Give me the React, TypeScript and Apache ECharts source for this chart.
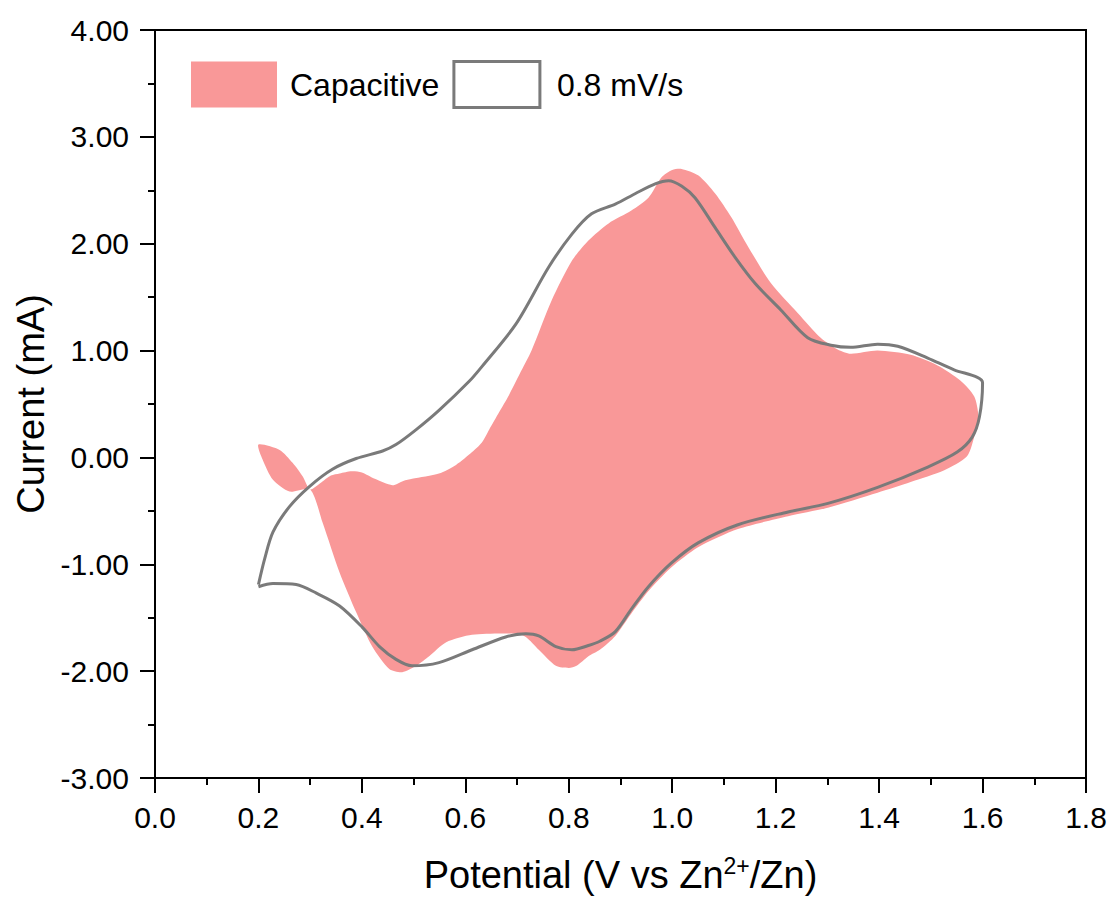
import React, { useEffect, useRef } from "react";
import * as echarts from "echarts";

// Potential (V) / Current (mA) pairs
const cvPoints: [number, number][] = [
  [0.200, -1.19], [0.212, -0.95], [0.228, -0.70], [0.260, -0.46], [0.299, -0.27],
  [0.343, -0.11], [0.389, -0.01], [0.440, 0.06], [0.466, 0.12], [0.505, 0.26],
  [0.549, 0.44], [0.607, 0.71], [0.632, 0.85], [0.698, 1.25],
  [0.761, 1.78], [0.806, 2.09], [0.844, 2.28], [0.890, 2.37], [0.929, 2.47],
  [0.967, 2.56], [0.993, 2.59], [1.018, 2.54], [1.044, 2.43], [1.083, 2.15],
  [1.122, 1.87], [1.160, 1.63], [1.210, 1.38], [1.262, 1.12], [1.307, 1.05],
  [1.345, 1.03], [1.397, 1.06], [1.436, 1.04], [1.494, 0.93], [1.545, 0.82],
  [1.590, 0.75], [1.600, 0.70],
  [1.594, 0.38], [1.580, 0.19], [1.551, 0.05], [1.494, -0.09], [1.397, -0.28],
  [1.301, -0.43], [1.224, -0.51], [1.127, -0.63], [1.050, -0.80], [0.998, -0.99],
  [0.954, -1.21], [0.921, -1.42], [0.890, -1.63], [0.860, -1.72], [0.838, -1.76],
  [0.806, -1.80], [0.775, -1.77], [0.742, -1.67], [0.717, -1.65], [0.678, -1.68],
  [0.613, -1.80], [0.549, -1.92], [0.497, -1.95], [0.466, -1.89], [0.434, -1.77],
  [0.401, -1.59], [0.357, -1.39], [0.312, -1.27], [0.273, -1.19], [0.228, -1.18],
  [0.200, -1.21],
];

const capacitivePoints: [number, number][] = [
  [0.200, 0.12], [0.241, 0.07], [0.266, -0.05], [0.286, -0.18], [0.300, -0.30],
  [0.320, -0.24], [0.340, -0.17], [0.357, -0.15], [0.380, -0.13], [0.400, -0.14],
  [0.425, -0.20], [0.459, -0.26], [0.480, -0.22], [0.497, -0.20], [0.549, -0.15],
  [0.582, -0.07], [0.613, 0.05], [0.632, 0.14], [0.646, 0.26], [0.665, 0.42],
  [0.684, 0.58], [0.705, 0.78], [0.728, 1.00], [0.767, 1.47], [0.806, 1.84],
  [0.838, 2.03], [0.877, 2.19], [0.921, 2.31], [0.954, 2.43], [0.979, 2.62],
  [1.000, 2.69], [1.018, 2.70], [1.050, 2.64], [1.083, 2.47], [1.114, 2.25],
  [1.147, 1.97], [1.191, 1.63], [1.243, 1.35], [1.287, 1.12], [1.320, 1.01],
  [1.345, 0.97], [1.397, 1.00], [1.461, 0.96], [1.513, 0.86], [1.557, 0.72],
  [1.584, 0.57], [1.592, 0.38], [1.586, 0.23], [1.570, 0.01], [1.526, -0.12],
  [1.461, -0.23], [1.397, -0.33], [1.301, -0.47], [1.224, -0.55], [1.127, -0.67],
  [1.050, -0.84], [0.998, -1.03], [0.954, -1.25], [0.921, -1.46], [0.890, -1.67],
  [0.860, -1.80], [0.838, -1.86], [0.815, -1.95], [0.800, -1.97], [0.775, -1.95],
  [0.742, -1.80], [0.717, -1.68], [0.698, -1.65], [0.613, -1.66], [0.563, -1.73],
  [0.530, -1.86], [0.505, -1.95], [0.478, -2.01], [0.453, -1.98], [0.420, -1.77],
  [0.389, -1.45], [0.357, -1.08], [0.324, -0.61], [0.300, -0.30], [0.260, -0.32],
  [0.228, -0.21], [0.208, -0.02],
];

const seriesNames = ["Capacitive", "0.8 mV/s"];
const xTitle = "Potential (V vs Zn{sup|2+}/Zn)";
const yTitle = "Current (mA)";

const PINK = "#F99898";
const GRAY = "#7A7A7A";
const FONT = "'Liberation Sans', Arial, sans-serif";

export default function App() {
  const ref = useRef<HTMLDivElement>(null);
  useEffect(() => {
    if (!ref.current) return;
    const chart = echarts.init(ref.current, undefined, { renderer: "svg" });
    chart.setOption({
      animation: false,
      backgroundColor: "#fff",
      textStyle: { fontFamily: FONT },
      grid: {
        left: 155, right: 29, top: 30, bottom: 125,
        show: true, borderColor: "#000", borderWidth: 2, backgroundColor: "transparent",
      },
      legend: {
        left: 186, top: 55, orient: "horizontal",
        itemWidth: 86, itemHeight: 46, itemGap: 13,
        textStyle: { fontFamily: FONT, fontSize: 32, color: "#000" },
        data: [
          { name: seriesNames[0], icon: "rect", itemStyle: { color: PINK, borderWidth: 0 }, textStyle: { padding: [0, 0, 0, 8] } },
          { name: seriesNames[1], icon: "rect", itemStyle: { color: "#fff", borderColor: GRAY, borderWidth: 3 }, textStyle: { padding: [0, 0, 0, 12] } },
        ],
      },
      xAxis: {
        type: "value", min: 0, max: 1.8, interval: 0.2,
        name: xTitle, nameLocation: "middle", nameGap: 76,
        nameTextStyle: {
          fontFamily: FONT, fontSize: 38, color: "#000",
          rich: { sup: { fontFamily: FONT, fontSize: 23, color: "#000", verticalAlign: "top", padding: [0, 0, 18, 0] } },
        },
        axisLine: { show: true, onZero: false, lineStyle: { color: "#000", width: 2 } },
        axisTick: { show: true, inside: false, length: 15, lineStyle: { color: "#000", width: 2 } },
        minorTick: { show: true, splitNumber: 2, length: 7, lineStyle: { color: "#000", width: 2 } },
        axisLabel: { fontFamily: FONT, fontSize: 30, color: "#000", margin: 24, formatter: (v: number) => v.toFixed(1) },
        splitLine: { show: false },
      },
      yAxis: {
        type: "value", min: -3, max: 4, interval: 1,
        name: yTitle, nameLocation: "middle", nameGap: 104,
        nameTextStyle: { fontFamily: FONT, fontSize: 38, color: "#000" },
        axisLine: { show: true, onZero: false, lineStyle: { color: "#000", width: 2 } },
        axisTick: { show: true, inside: false, length: 15, lineStyle: { color: "#000", width: 2 } },
        minorTick: { show: true, splitNumber: 2, length: 7, lineStyle: { color: "#000", width: 2 } },
        axisLabel: { fontFamily: FONT, fontSize: 30, color: "#000", margin: 26, formatter: (v: number) => v.toFixed(2) },
        splitLine: { show: false },
      },
      series: [
        {
          name: seriesNames[0],
          type: "custom",
          coordinateSystem: "cartesian2d",
          itemStyle: { color: PINK },
          data: capacitivePoints,
          encode: { x: 0, y: 1 },
          renderItem: (params: any, api: any) => {
            if (params.dataIndex !== 0) return null;
            const pts = capacitivePoints.map((p) => api.coord(p));
            return {
              type: "polygon",
              shape: { points: pts, smooth: 0.25 },
              style: { fill: PINK, stroke: "none" },
            };
          },
          z: 1,
        },
        {
          name: seriesNames[1],
          type: "line",
          data: cvPoints,
          smooth: 0.3,
          showSymbol: false,
          symbol: "none",
          lineStyle: { color: GRAY, width: 3 },
          itemStyle: { color: "#fff", borderColor: GRAY, borderWidth: 3 },
          z: 2,
        },
      ],
    });
    return () => chart.dispose();
  }, []);
  return (
    <div
      ref={ref}
      style={{ position: "absolute", left: 0, top: 0, width: 1115, height: 903 }}
    />
  );
}
